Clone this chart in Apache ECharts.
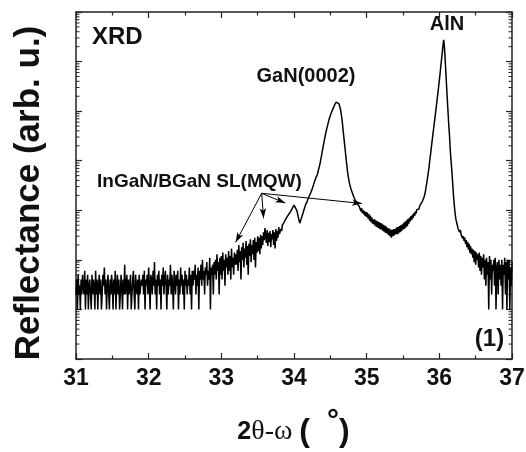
<!DOCTYPE html>
<html><head><meta charset="utf-8">
<script src="https://cdn.jsdelivr.net/npm/echarts@6/dist/echarts.min.js"></script>
<style>html,body{margin:0;padding:0;background:#fff}#c{width:526px;height:452px}</style>
</head><body><div id="c"></div>
<script>
// ---- data (2theta-omega scan, intensity in arb. u.) ----
const xTicks = [31, 32, 33, 34, 35, 36, 37];
const scanStep = 0.01;

const bgLeftStart = 31.00; // 31.00 - 32.60
const bgLeft = [
20,40,10,50,20,30,10,40,20,50,
30,20,60,10,40,20,50,10,30,40,
20,10,50,20,40,30,10,60,20,40,
10,30,50,20,40,10,20,50,30,70,
20,40,10,30,50,20,10,40,20,50,
30,10,40,20,60,10,30,50,20,40,
10,20,50,30,10,40,20,80,20,30,
50,10,40,20,30,50,10,20,40,60,
20,10,50,30,20,40,10,50,20,30,
40,
30,50,20,60,10,40,30,50,20,70,
30,10,50,40,20,60,30,90,20,40,
10,50,30,60,20,40,10,50,30,70,
20,40,60,30,10,50,20,40,30,80,
20,50,30,10,60,40,20,50,30,60,
10,40,20,70,30,50,20,40,10,60,
30,50,20,40,30,70,20,50,10,60
];

const riseLeftStart = 32.61; // 32.61 - 33.50
const riseLeft = [
30,60,40,80,20,50,30,70,10,60,
40,80,30,100,40,60,20,70,50,90,
30,60,40,110,10,70,50,80,20,90,
50,100,40,130,60,90,20,110,50,120,
40,140,60,100,30,130,70,110,50,150,
60,120,40,170,70,110,50,140,80,130,
80,160,60,200,90,150,40,180,100,220,
70,170,110,240,80,190,50,210,120,260,
90,200,130,250,100,280,70,230,140,300
];

const slBandStart = 33.51; // 33.51 - 34.30 (superlattice satellites)
const slBand = [
150,280,130,320,170,300,200,360,250,440,
300,220,400,190,350,230,380,180,330,260,
400,200,360,170,420,240,380,280,460,330,
330,420,380,500,460,560,520,640,600,720,
700,800,780,880,900,980,1050,1120,1200,1270,
1200,1120,1050,980,850,720,620,550,600,680,
760,840,920,1050,1150,1300,1400,1500,1650,1800,
1950,2100,2230,2450,2700,3000,3300,3700,4100,4500
];

const ganPeakStart = 34.32, ganPeakStep = 0.02; // GaN(0002)
const ganPeak = [
5200,6800,9000,13000,19000,27000,38000,50000,66000,82000,
98000,115000,135000,152000,158000,140000,108000,70000,36000,19000,
10000,5500,3700,2800,2300,1900,1650,1450,1300,1180
];

const valleyStart = 34.91; // 34.91 - 35.80
const valley = [
1150,960,1100,880,1020,830,960,760,920,740,
900,680,840,620,780,580,720,540,660,520,
660,480,620,460,600,440,580,420,550,410,
540,390,510,370,490,350,470,340,440,320,
430,300,410,280,400,300,420,310,420,330,
450,330,460,340,480,360,500,380,520,410,
560,420,590,450,630,480,670,540,710,600,
760,640,820,700,880,770,950,860,1030,960,
1120,1060,1230,1200,1380,1400,1550,1650,1850,2100
];

const alnPeakStart = 35.81; // AlN
const alnPeak = [
2500,3100,3800,4800,6000,7900,10500,13800,18600,24500,
32400,42700,56000,74000,98000,129000,174000,229000,309000,417000,
575000,794000,1100000,1500000,2100000,2750000,2000000,1120000,600000,316000,
170000,95000,52000,32000,17000,10500,6800,4200,2500,1600,
1100,800,640,560
];

const bgRightStart = 36.25; // 36.25 - 37.00
const bgRight = [
480,420,450,360,400,320,350,270,300,240,
280,210,250,180,230,160,210,140,190,130,
170,110,160,90,150,80,140,100,130,70,
140,60,120,50,110,70,130,40,100,30,
110,50,90,10,120,40,100,20,80,60,
100,30,110,10,70,90,20,100,40,80,
30,100,10,80,50,110,20,90,10,100,
40,100,10,70,30,90
];

const logMinorMultipliers = [2, 3, 4, 5, 6, 7, 8, 9];
const logDecades = [1, 10, 100, 1e3, 1e4, 1e5, 1e6];

// annotation arrows (data coordinates)
const arrowFrom = [33.555, 2203];
const arrowTips = [[33.197, 226], [33.582, 689], [33.881, 1396], [34.936, 1371]];

// ---- build ----
function scan(start, step, vals) {
  return vals.map((v, i) => [Math.round((start + i * step) * 1000) / 1000, v]);
}
const curve = [].concat(
  scan(bgLeftStart, scanStep, bgLeft),
  scan(riseLeftStart, scanStep, riseLeft),
  scan(slBandStart, scanStep, slBand),
  scan(ganPeakStart, ganPeakStep, ganPeak),
  scan(valleyStart, scanStep, valley),
  scan(alnPeakStart, scanStep, alnPeak),
  scan(bgRightStart, scanStep, bgRight)
);
const minorTickData = [];
logDecades.forEach(d => logMinorMultipliers.forEach(m => minorTickData.push([xTicks[0], m * d])));

const FONT = 'Liberation Sans, Arial, Helvetica, sans-serif';
const AX = '#222';
function xAxisDef(pos, showLabel) {
  return {
    type: 'value', min: 31, max: 37, interval: 1, position: pos,
    axisLine: { show: true, onZero: false, lineStyle: { color: AX, width: 1.5 } },
    axisTick: { show: true, inside: true, length: 6, lineStyle: { color: AX, width: 1.2 } },
    minorTick: { show: true, splitNumber: 2, length: 3.5, lineStyle: { color: AX, width: 1.2 } },
    splitLine: { show: false }, minorSplitLine: { show: false },
    axisLabel: {
      show: showLabel, margin: 8, color: '#111', fontSize: 23, fontWeight: 'bold', fontFamily: FONT,
      formatter: v => xTicks.indexOf(v) >= 0 ? String(v) : ''
    }
  };
}
function yAxisDef(pos) {
  return {
    type: 'log', logBase: 10, min: 1, max: 1e7, splitNumber: 7, position: pos,
    axisLine: { show: true, onZero: false, lineStyle: { color: AX, width: 1.5 } },
    axisTick: { show: true, inside: true, length: 6, lineStyle: { color: AX, width: 1.2 } },
    splitLine: { show: false },
    axisLabel: { show: false }
  };
}
function txt(text, x, y, size, align, extra) {
  const st = {
    text: text, fill: '#111', font: 'bold ' + size + 'px ' + FONT,
    textAlign: align, align: align, textVerticalAlign: 'middle', verticalAlign: 'middle'
  };
  return Object.assign({ type: 'text', x: x, y: y, silent: true, style: st }, extra || {});
}

const chart = echarts.init(document.getElementById('c'), null, { renderer: 'canvas' });
chart.setOption({
  animation: false,
  backgroundColor: '#fff',
  grid: { left: 76, right: 14, top: 12, bottom: 93, outerBoundsMode: 'none', containLabel: false },
  xAxis: [xAxisDef('bottom', true), xAxisDef('top', false)],
  yAxis: [yAxisDef('left'), yAxisDef('right')],
  series: [
    {
      type: 'line', data: curve, xAxisIndex: 0, yAxisIndex: 0,
      showSymbol: false, symbol: 'none', silent: true,
      lineStyle: { color: '#000', width: 1.5 },
      markLine: {
        silent: true, animation: false,
        symbol: ['none', 'arrow'],
        label: { show: false },
        lineStyle: { color: '#000', width: 1, type: 'solid' },
        emphasis: { disabled: true },
        data: arrowTips.map(t => [
          { coord: arrowFrom, symbol: 'none' },
          { coord: t, symbol: 'arrow', symbolSize: [5, 10] }
        ])
      }
    },
    {
      type: 'custom', data: minorTickData, xAxisIndex: 0, yAxisIndex: 0,
      silent: true, clip: false,
      renderItem: function (params, api) {
        const v = api.value(1);
        const pL = api.coord([31, v]);
        const pR = api.coord([37, v]);
        return {
          type: 'group', children: [
            { type: 'line', shape: { x1: pL[0], y1: pL[1], x2: pL[0] + 3.5, y2: pL[1] }, style: { stroke: AX, lineWidth: 1 } },
            { type: 'line', shape: { x1: pR[0] - 3.5, y1: pR[1], x2: pR[0], y2: pR[1] }, style: { stroke: AX, lineWidth: 1 } }
          ]
        };
      }
    }
  ],
  graphic: [
    txt('XRD', 92, 37, 24, 'left'),
    txt('GaN(0002)', 306, 76, 20, 'center'),
    txt('AlN', 447, 24, 20, 'center'),
    txt('InGaN/BGaN SL(MQW)', 97, 181.5, 19, 'left'),
    txt('(1)', 489.5, 339, 24, 'center'),
    txt('Reflectance (arb. u.)', 29.5, 193, 35, 'center', { rotation: Math.PI / 2 }),
    {
      type: 'text', x: 293.5, y: 432, silent: true,
      style: {
        text: '{n|2}{g|θ-ω}{n| }{p|(}{d|°}{p|)}',
        fill: '#111', font: 'bold 25px ' + FONT,
        textAlign: 'center', align: 'center', textVerticalAlign: 'middle', verticalAlign: 'middle',
        rich: {
          n: { fontSize: 25, fontWeight: 'bold', fontFamily: FONT, fill: '#111' },
          g: { fontSize: 28, fontWeight: 'normal', fontFamily: 'Liberation Serif, Times New Roman, serif', fill: '#111' },
          p: { fontSize: 32, fontWeight: 'bold', fontFamily: FONT, fill: '#111' },
          d: { fontSize: 30, fontWeight: 'bold', fontFamily: FONT, fill: '#111', padding: [0, 0, 21, 17] }
        }
      }
    }
  ]
});
</script>
</body></html>
